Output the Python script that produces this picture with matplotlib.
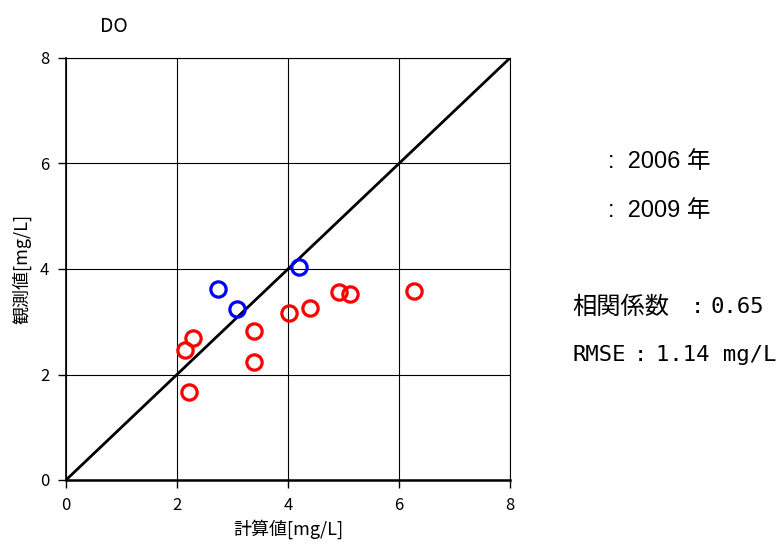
import numpy as np
import matplotlib.pyplot as plt

plt.rcParams['font.family'] = ['Noto Sans CJK JP', 'DejaVu Sans']

# 計算値 / 観測値 (mg/L)
calc_2006 = [2.73, 3.08, 4.20]
obs_2006 = [3.62, 3.24, 4.03]
calc_2009 = [2.29, 2.14, 2.22, 3.38, 3.39, 4.02, 4.40, 4.91, 5.12, 6.27]
obs_2009 = [2.70, 2.46, 1.67, 2.82, 2.24, 3.17, 3.27, 3.56, 3.52, 3.59]
ticks = [0, 2, 4, 6, 8]

fig = plt.figure(figsize=(7.82, 5.47), dpi=100)
ax = fig.add_axes([66/782, 1-480/547, 444/782, 422/547])

ax.set_xlim(0, 8)
ax.set_ylim(0, 8)
ax.set_xticks(ticks)
ax.set_yticks(ticks)
ax.grid(True, color='black', linewidth=0.8)
ax.set_axisbelow(True)

# 1:1 線
ax.plot([0, 8], [0, 8], color='black', linewidth=2, zorder=3)

ax.plot(calc_2006, obs_2006, 'o', markersize=11, markerfacecolor='none',
        markeredgecolor='#0000ff', markeredgewidth=2.3, zorder=4, clip_on=False)
ax.plot(calc_2009, obs_2009, 'o', markersize=11, markerfacecolor='none',
        markeredgecolor='#ff0000', markeredgewidth=2.3, zorder=4, clip_on=False)

for s in ['top', 'right']:
    ax.spines[s].set_linewidth(0.8)
ax.spines['left'].set_linewidth(1.2)
ax.spines['bottom'].set_linewidth(1.8)
ax.tick_params(direction='out', length=6, width=1, labelsize=12, pad=6)

ax.set_xlabel('計算値[mg/L]', fontsize=13, labelpad=4)
ax.set_ylabel('観測値[mg/L]', fontsize=13, labelpad=6)
fig.text(114/782, 1-27/547, 'DO', fontsize=14, ha='center', va='center')

# 凡例（記号なし）
leg_font = ['Liberation Sans', 'Noto Sans CJK JP']
fig.text(608/782, 1-162/547, ':  2006 年', fontsize=17, ha='left', va='center', family=leg_font)
fig.text(608/782, 1-211/547, ':  2009 年', fontsize=17, ha='left', va='center', family=leg_font)

# 統計値
mono = ['DejaVu Sans Mono', 'Noto Sans CJK JP']
fig.text(572/782, 1-307/547, '相関係数', fontsize=17.5, ha='left', va='center')
fig.text(697/782, 1-307/547, ':', fontsize=16, ha='center', va='center', family=mono)
fig.text(711/782, 1-307/547, '0.65', fontsize=16, ha='left', va='center', family=mono)
fig.text(572/782, 1-355/547, 'RMSE', fontsize=16, ha='left', va='center', family=mono)
fig.text(640/782, 1-355/547, ':', fontsize=16, ha='center', va='center', family=mono)
fig.text(656/782, 1-355/547, '1.14 mg/L', fontsize=16, ha='left', va='center', family=mono)

fig.savefig('out.png', dpi=100)
